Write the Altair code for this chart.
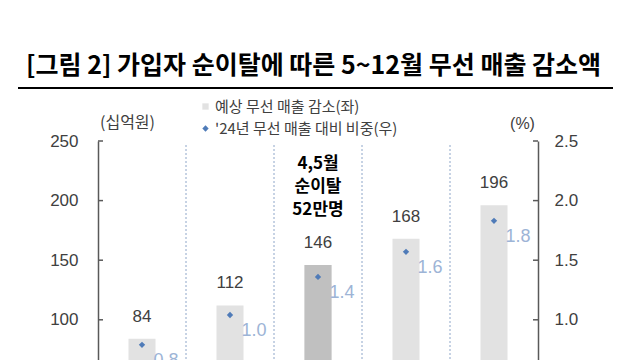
import altair as alt
import pandas as pd

categories = ["30만명", "40만명", "52만명", "60만명", "70만명"]
revenue_drop = [84, 112, 146, 168, 196]
ratio = [0.79, 1.04, 1.36, 1.57, 1.83]
highlight = [False, False, True, False, False]
left_ticks = [0, 50, 100, 150, 200, 250]
right_ticks = [0, 0.5, 1.0, 1.5, 2.0, 2.5]
annotation = "4,5월\n순이탈\n52만명"
bar_series = "예상 무선 매출 감소(좌)"
ratio_series = "'24년 무선 매출 대비 비중(우)"
title_text = "[그림 2] 가입자 순이탈에 따른 5~12월 무선 매출 감소액"

FONT = "Liberation Sans, Noto Sans CJK KR, sans-serif"
KFONT = "Noto Sans CJK KR, sans-serif"
W, H = 440, 298

df = pd.DataFrame({
    "cat": categories,
    "value": revenue_drop,
    "ratio": ratio,
    "highlight": highlight,
    "series": [bar_series] * len(categories),
    "series2": [ratio_series] * len(categories),
})
ann_df = pd.DataFrame({"cat": [c for c, h in zip(categories, highlight) if h],
                       "value": [v for v, h in zip(revenue_drop, highlight) if h],
                       "note": [annotation]})
sep_df = pd.DataFrame({"cat": categories[1:]})
lt_df = pd.DataFrame({"value": left_ticks})
rt_df = pd.DataFrame({"ratio": right_ticks})

# category labels lie below the visible crop of the reference, so they are not drawn
x_enc = alt.X("cat:N", sort=categories,
              scale=alt.Scale(paddingInner=0, paddingOuter=0),
              axis=alt.Axis(title=None, labels=False, tickSize=0,
                            domainColor="#595959"))

left_axis = alt.Axis(orient="left", values=left_ticks, title="(십억원)", titleAngle=0,
                     titleX=29, titleY=-19, titleAlign="center", titleBaseline="middle",
                     titleFont=KFONT, titleFontSize=16, titleFontWeight="normal",
                     titleColor="#404040", tickSize=0, labelPadding=20,
                     labelFont=FONT, labelFontSize=17, labelColor="#404040",
                     domainColor="#595959", domainWidth=1.5, grid=False)
y_left = alt.Y("value:Q", scale=alt.Scale(domain=[0, 250]), axis=left_axis)

right_axis = alt.Axis(orient="right", values=right_ticks, format=".1f", title="(%)",
                      titleAngle=0, titleX=-16, titleY=-18, titleAlign="center",
                      titleBaseline="middle", titleFont=FONT, titleFontSize=16,
                      titleFontWeight="normal", titleColor="#404040", tickSize=0,
                      labelPadding=16, labelFont=FONT, labelFontSize=17,
                      labelColor="#404040", domainColor="#595959", domainWidth=1.5,
                      grid=False)
y_right = alt.Y("ratio:Q", scale=alt.Scale(domain=[0, 2.5]), axis=right_axis)

base = alt.Chart(df)

bars = base.mark_bar(size=27).encode(
    x=x_enc, y=y_left,
    fill=alt.Fill("series:N", scale=alt.Scale(domain=[bar_series], range=["#e2e2e2"]),
                  legend=alt.Legend(title=None, orient="none", legendX=100, legendY=-42,
                                    symbolType="square", symbolSize=40, labelOffset=2,
                                    symbolFillColor="#c8c8c8", labelLimit=400,
                                    labelFont=KFONT, labelFontSize=15, labelColor="#404040",
                                    padding=0)))
hl = base.transform_filter("datum.highlight").mark_bar(size=27, color="#c0c0c0").encode(
    x=x_enc, y=y_left)
bar_text = base.mark_text(dy=-22, fontSize=17, font=FONT, color="#404040").encode(
    x=x_enc, y=y_left, text="value:Q")
ann = alt.Chart(ann_df).mark_text(dy=-101, fontSize=17, font=KFONT, fontWeight="bold",
                                  color="#000000", lineBreak="\n", lineHeight=23,
                                  baseline="middle").encode(
    x=x_enc, y=y_left, text="note:N")
seps = alt.Chart(sep_df).mark_rule(color="#8ea6c9", strokeDash=[2, 2], strokeWidth=1).encode(
    x=alt.X("cat:N", sort=categories, bandPosition=0), y=alt.value(4), y2=alt.value(H))
lticks = alt.Chart(lt_df).mark_rule(color="#595959", strokeWidth=1.5).encode(
    y=y_left, x=alt.value(0), x2=alt.value(5))

left_layer = alt.layer(seps, bars, hl, bar_text, ann, lticks)

points = base.mark_point(filled=True, size=40, color="#4f7bb8", opacity=1).encode(
    x=x_enc, y=y_right,
    shape=alt.Shape("series2:N", scale=alt.Scale(domain=[ratio_series], range=["diamond"]),
                    legend=alt.Legend(title=None, orient="none", legendX=100, legendY=-20,
                                      symbolSize=40, symbolFillColor="#4f7bb8",
                                      symbolStrokeColor="#4f7bb8", labelOffset=2,
                                      labelLimit=400,
                                      labelFont=KFONT, labelFontSize=15,
                                      labelColor="#404040", padding=0)))
pt_text = base.mark_text(dx=24, dy=16, fontSize=18, font=FONT, color="#9db4d6").encode(
    x=x_enc, y=y_right, text=alt.Text("ratio:Q", format=".1f"))
rticks = alt.Chart(rt_df).mark_rule(color="#595959", strokeWidth=1.5).encode(
    y=y_right, x=alt.value(W - 5), x2=alt.value(W))

right_layer = alt.layer(points, pt_text, rticks)

title_rule = alt.Chart(pd.DataFrame({"k": [0]})).mark_rule(color="#000000", strokeWidth=2).encode(
    x=alt.value(-80), x2=alt.value(515), y=alt.value(-53))

chart = alt.layer(left_layer, right_layer, title_rule).resolve_scale(
    y="independent", fill="independent", shape="independent"
).properties(
    width=W, height=H,
    title=alt.TitleParams(text=title_text, anchor="start", font=KFONT, fontSize=25,
                          fontWeight="bold", color="#000000", dx=9, dy=12, offset=20),
    autosize=alt.AutoSizeParams(type="none"),
    padding={"left": 98, "top": 141, "right": 102, "bottom": 40},
).configure_view(stroke=None)

chart.save("out.html", embed_options={"renderer": "svg", "actions": False})
